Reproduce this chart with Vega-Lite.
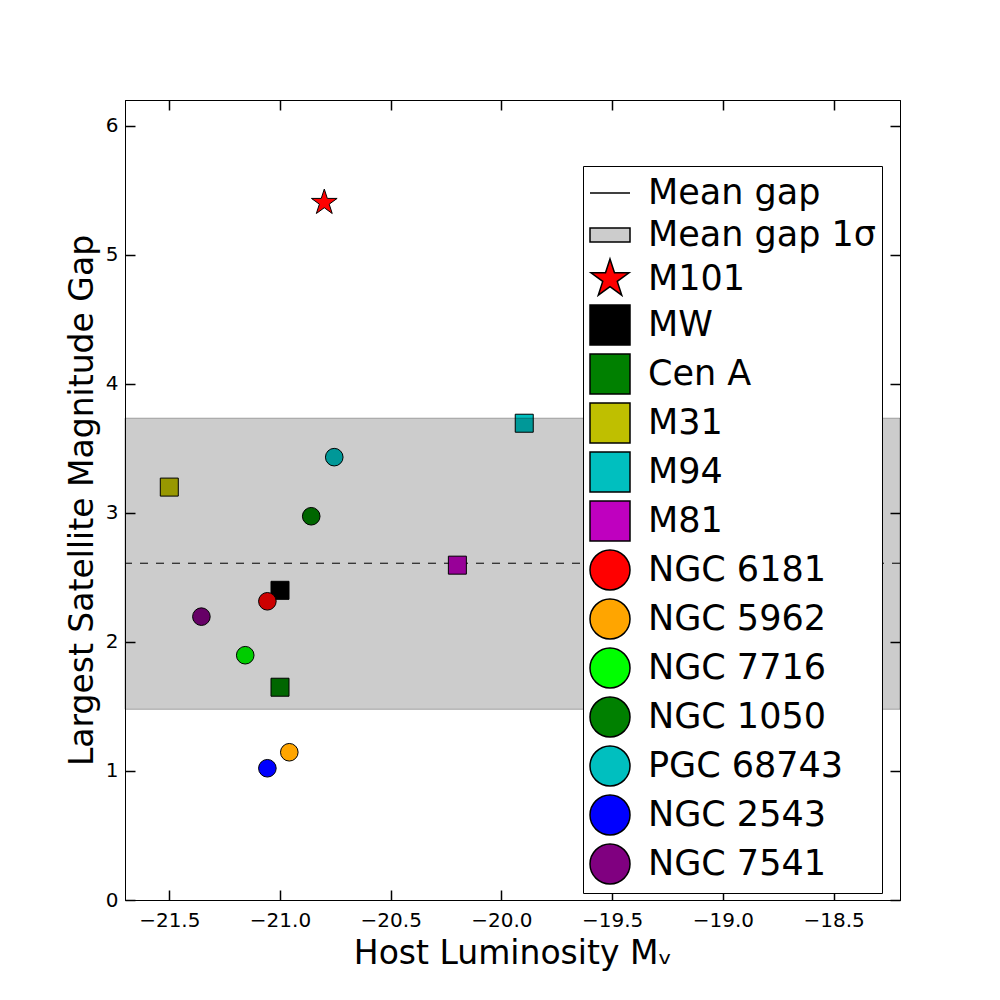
{
  "$schema": "https://vega.github.io/schema/vega-lite/v6.json",
  "autosize": "none",
  "width": 775,
  "height": 800,
  "padding": {"left": 125, "top": 100, "right": 100, "bottom": 100},
  "background": "white",
  "config": {
    "font": "DejaVu Sans",
    "view": {"stroke": "black", "strokeWidth": 1},
    "axis": {
      "grid": false,
      "domainColor": "black",
      "domainWidth": 1,
      "tickColor": "black",
      "tickWidth": 1.5,
      "tickSize": -10,
      "labelFont": "DejaVu Sans",
      "labelFontSize": 20,
      "labelColor": "black",
      "titleFont": "DejaVu Sans",
      "titleFontSize": 33,
      "titleFontWeight": "normal",
      "titleColor": "black",
      "zindex": 1
    }
  },
  "datasets": {
    "sq": [
      {"name": "M101", "mv": -20.80, "gap": 5.405},
      {"name": "MW", "mv": -21.00, "gap": 2.40},
      {"name": "Cen A", "mv": -21.00, "gap": 1.649},
      {"name": "M31", "mv": -21.50, "gap": 3.20},
      {"name": "M94", "mv": -19.897, "gap": 3.695},
      {"name": "M81", "mv": -20.199, "gap": 2.595}
    ],
    "circ": [
      {"name": "NGC 6181", "mv": -21.057, "gap": 2.315},
      {"name": "NGC 5962", "mv": -20.958, "gap": 1.145},
      {"name": "NGC 7716", "mv": -21.157, "gap": 1.897},
      {"name": "NGC 1050", "mv": -20.859, "gap": 2.974},
      {"name": "PGC 68743", "mv": -20.755, "gap": 3.432},
      {"name": "NGC 2543", "mv": -21.057, "gap": 1.021},
      {"name": "NGC 7541", "mv": -21.355, "gap": 2.196}
    ],
    "gapmean": [{"gm": 2.61}],
    "gapband": [{"lo": 1.478, "hi": 3.734}]
  },
  "layer": [
    {
      "data": {"name": "gapmean"},
      "mark": {"type": "rule", "color": "black", "strokeWidth": 1, "strokeDash": [8, 8]},
      "encoding": {
        "y": {"field": "gm", "type": "quantitative", "axis": null, "scale": {"domain": [0, 6.2], "nice": false, "zero": false}}
      }
    },
    {
      "data": {"name": "sq"},
      "mark": {"type": "point", "filled": true, "opacity": 1, "stroke": "black", "strokeWidth": 1},
      "encoding": {
        "x": {"field": "mv", "type": "quantitative", "title": "Host Luminosity Mᵥ",
          "scale": {"domain": [-21.7, -18.2], "nice": false, "zero": false},
          "axis": {"orient": "bottom", "values": [-21.5, -21, -20.5, -20, -19.5, -19, -18.5], "format": ".1f", "labelPadding": 20, "titlePadding": 7}},
        "y": {"field": "gap", "type": "quantitative", "title": "Largest Satellite Magnitude Gap",
          "scale": {"domain": [0, 6.2], "nice": false, "zero": false},
          "axis": {"orient": "left", "values": [0, 1, 2, 3, 4, 5, 6], "labelPadding": 17, "titlePadding": 6}},
        "color": {"field": "name", "type": "nominal",
          "scale": {
            "domain": ["Mean gap", "Mean gap 1σ", "M101", "MW", "Cen A", "M31", "M94", "M81", "NGC 6181", "NGC 5962", "NGC 7716", "NGC 1050", "PGC 68743", "NGC 2543", "NGC 7541"],
            "range": ["black", "#cccccc", "red", "black", "#008000", "#bfbf00", "#00bfbf", "#bf00bf", "red", "orange", "#00ff00", "#008000", "#00bfbf", "blue", "#800080"]
          },
          "legend": {
            "title": null, "orient": "none", "legendX": 458, "legendY": 66,
            "labelFont": "DejaVu Sans", "labelFontSize": 35, "labelColor": "black", "labelLimit": 500, "labelOffset": 17,
            "symbolSize": 1600, "strokeColor": "black", "fillColor": "white", "padding": 6, "rowPadding": 3,
            "encode": {
              "symbols": {
                "size": {"condition": [
                    {"test": "datum.value === 'Mean gap'", "value": 784},
                    {"test": "datum.value === 'Mean gap 1σ'", "value": 1600},
                    {"test": "datum.value === 'M101'", "value": 729},
                    {"test": "indexOf(datum.value, 'M') === 0 || datum.value === 'Cen A'", "value": 324}
                  ], "value": 310},
                "stroke": {"condition": {"test": "datum.value === 'Mean gap 1σ'", "value": "#b0b0b0"}, "value": "black"},
                "strokeDash": {"condition": {"test": "datum.value === 'Mean gap'", "value": [8, 8]}, "value": []},
                "strokeWidth": {"value": 1}
              }
            }
          }
        },
        "shape": {"field": "name", "type": "nominal",
          "scale": {
            "domain": ["Mean gap", "Mean gap 1σ", "M101", "MW", "Cen A", "M31", "M94", "M81", "NGC 6181", "NGC 5962", "NGC 7716", "NGC 1050", "PGC 68743", "NGC 2543", "NGC 7541"],
            "range": ["stroke", "M-1,-0.35H1V0.35H-1Z", "M0,-1L0.2245,-0.309L0.9511,-0.309L0.3633,0.118L0.5878,0.809L0,0.382L-0.5878,0.809L-0.3633,0.118L-0.9511,-0.309L-0.2245,-0.309Z", "square", "square", "square", "square", "square", "circle", "circle", "circle", "circle", "circle", "circle", "circle"]
          },
          "legend": {
            "title": null, "orient": "none", "legendX": 458, "legendY": 66,
            "labelFont": "DejaVu Sans", "labelFontSize": 35, "labelColor": "black", "labelLimit": 500, "labelOffset": 17,
            "symbolSize": 1600, "strokeColor": "black", "fillColor": "white", "padding": 6, "rowPadding": 3,
            "encode": {
              "symbols": {
                "size": {"condition": [
                    {"test": "datum.value === 'Mean gap'", "value": 784},
                    {"test": "datum.value === 'Mean gap 1σ'", "value": 1600},
                    {"test": "datum.value === 'M101'", "value": 729},
                    {"test": "indexOf(datum.value, 'M') === 0 || datum.value === 'Cen A'", "value": 324}
                  ], "value": 310},
                "stroke": {"condition": {"test": "datum.value === 'Mean gap 1σ'", "value": "#b0b0b0"}, "value": "black"},
                "strokeDash": {"condition": {"test": "datum.value === 'Mean gap'", "value": [8, 8]}, "value": []},
                "strokeWidth": {"value": 1}
              }
            }
          }
        },
        "size": {
          "condition": {"test": "datum.name === 'M101'", "value": 729},
          "value": 324
        }
      }
    },
    {
      "data": {"name": "circ"},
      "mark": {"type": "point", "filled": true, "opacity": 1, "stroke": "black", "strokeWidth": 1, "size": 310},
      "encoding": {
        "x": {"field": "mv", "type": "quantitative", "title": null,
          "axis": {"orient": "top", "values": [-21.5, -21, -20.5, -20, -19.5, -19, -18.5], "labels": false, "title": null}},
        "y": {"field": "gap", "type": "quantitative", "title": null,
          "axis": {"orient": "right", "values": [0, 1, 2, 3, 4, 5, 6], "labels": false, "title": null}},
        "color": {"field": "name", "type": "nominal"},
        "shape": {"field": "name", "type": "nominal"}
      }
    },
    {
      "data": {"name": "gapband"},
      "mark": {"type": "rect", "fill": "black", "fillOpacity": 0.2, "stroke": "black", "strokeOpacity": 0.3, "strokeWidth": 1},
      "encoding": {
        "y": {"field": "lo", "type": "quantitative", "axis": null},
        "y2": {"field": "hi"}
      }
    }
  ]
}
